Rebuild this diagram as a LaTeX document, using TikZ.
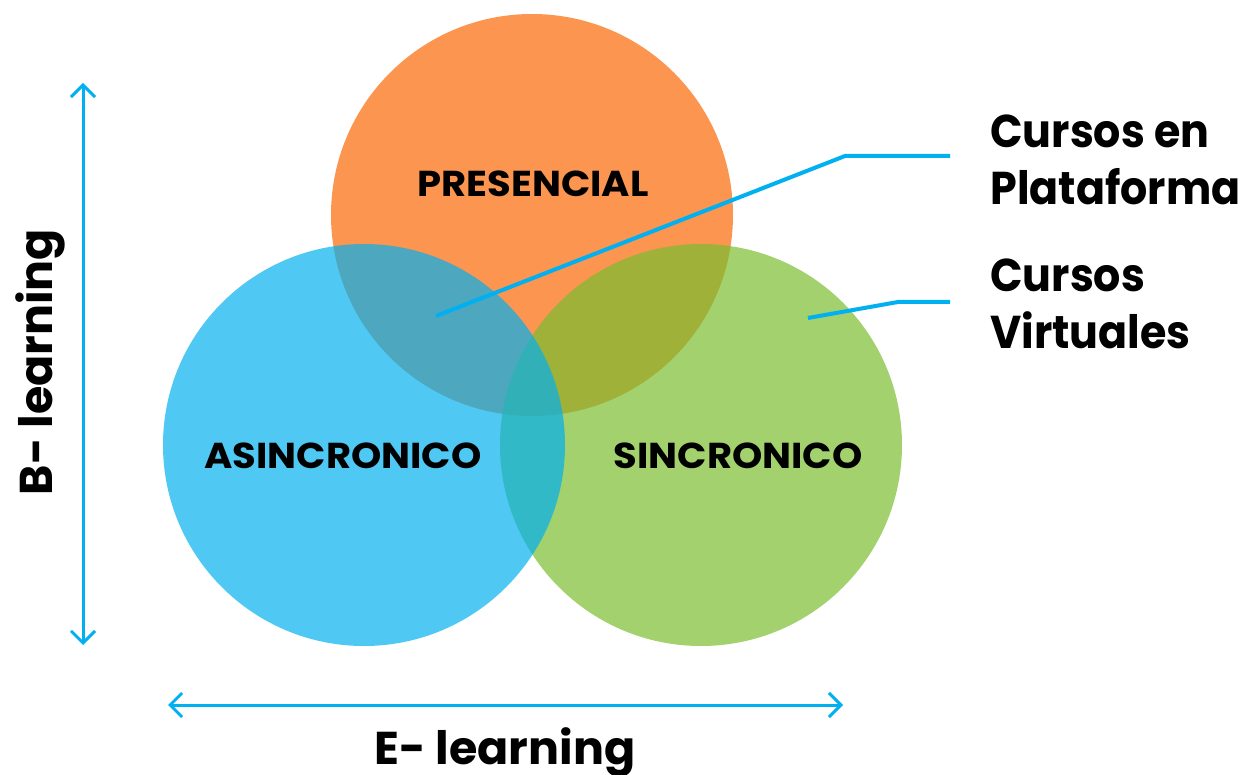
\documentclass[tikz,border=0pt]{standalone}
\usepackage{fontspec}
\setmainfont{Poppins}
\usetikzlibrary{arrows.meta}
\definecolor{corange}{RGB}{251,149,79}
\definecolor{cblue}{RGB}{4,176,238}
\definecolor{cgreen}{RGB}{122,189,49}
\definecolor{cline}{RGB}{0,176,240}
\begin{document}
\begin{tikzpicture}[x=0.5pt,y=-0.5pt,
  venn/.style={circle,minimum size=201pt,inner sep=0pt,draw=none},
  lab/.style={font=\bfseries\fontsize{18}{21}\selectfont,inner sep=0pt,xscale=1.07},
  biglab/.style={font=\bfseries\fontsize{23}{28.5}\selectfont,inner sep=0pt},
  sidelab/.style={font=\bfseries\fontsize{23}{28.5}\selectfont,inner sep=0pt,xscale=0.93,anchor=north west,align=left},
  axis/.style={cline,line width=1.5pt,{Straight Barb[length=6pt,width=12pt]}-{Straight Barb[length=6pt,width=12pt]}},
  callout/.style={cline,line width=2pt}]
\useasboundingbox (0,0) rectangle (1244,775);
\node[venn,fill=corange] (pres) at (532,215) {};
\node[venn,fill=cgreen,fill opacity=0.7] (sinc) at (701,445) {};
\node[venn,fill=cblue,fill opacity=0.7] (asinc) at (364,445) {};
\node[lab] (tpres) at (533,184) {PRESENCIAL};
\node[lab] (tasinc) at (343,456) {ASINCRONICO};
\node[lab] (tsinc) at (738,456) {SINCRONICO};
\coordinate (vtop) at (83,83);
\coordinate (vbot) at (83,645);
\coordinate (hl) at (168,705);
\coordinate (hr) at (843,705);
\draw[axis] (vtop) -- (vbot);
\draw[axis] (hl) -- (hr);
\node[biglab,rotate=90] (blearn) at (40,362) {B- learning};
\node[biglab] (elearn) at (505,752) {E- learning};
\node[sidelab] (plat) at (990,114) {Cursos en\\Plataforma};
\node[sidelab] (virt) at (990,258) {Cursos\\Virtuales};
\coordinate (p1) at (436,316);
\coordinate (k1) at (845,156);
\coordinate (e1) at (950,156);
\coordinate (p2) at (808,318);
\coordinate (k2) at (898,302);
\coordinate (e2) at (950,302);
\draw[callout] (p1) -- (k1) -- (e1);
\draw[callout] (p2) -- (k2) -- (e2);
\end{tikzpicture}
\end{document}
